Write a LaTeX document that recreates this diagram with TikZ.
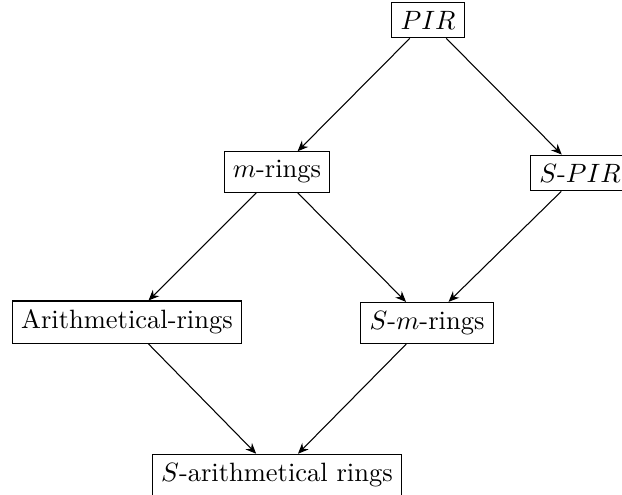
\documentclass[tikz,border=0pt]{standalone}
\usetikzlibrary{arrows.meta}
\begin{document}
\begin{tikzpicture}[x=0.3774pt,y=-0.3774pt,
  box/.style={draw,rectangle,inner sep=3.33pt,line width=0.4pt},
  arr/.style={-{Stealth[length=4pt,width=3.4pt]},line width=0.4pt}]
\useasboundingbox (0,0) rectangle (622,494);
\node[box] (pir) at (428,20) {$PIR$};
\node[box] (mr) at (277,172) {$m$-rings};
\node[box] (spir) at (580,173) {$S$-$PIR$};
\node[box] (ar) at (127,322) {Arithmetical-rings};
\node[box] (smr) at (427,323) {$S$-$m$-rings};
\node[box] (sar) at (277,475) {$S$-arithmetical rings};
\draw[arr] (pir) -- (mr);
\draw[arr] (pir) -- (spir);
\draw[arr] (mr) -- (ar);
\draw[arr] (mr) -- (smr);
\draw[arr] (spir) -- (smr);
\draw[arr] (ar) -- (sar);
\draw[arr] (smr) -- (sar);
\end{tikzpicture}
\end{document}
